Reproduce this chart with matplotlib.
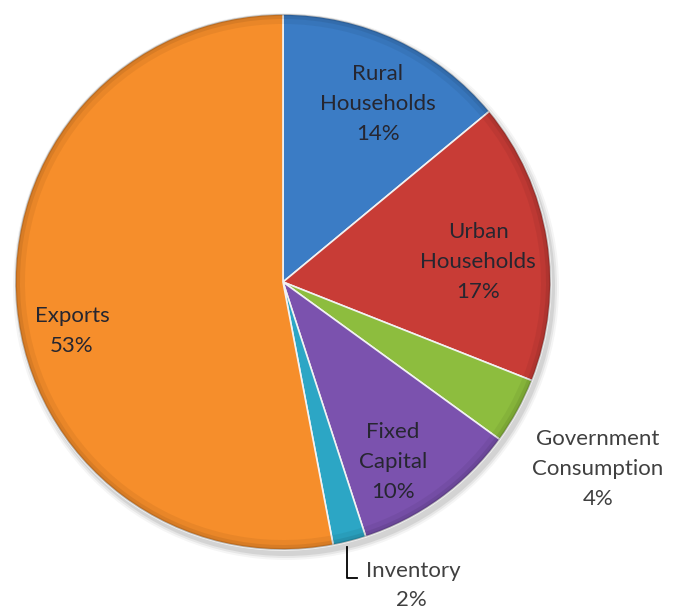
import matplotlib.pyplot as plt
from matplotlib.patches import Wedge

# shares of final demand (%)
categories = ["Rural\nHouseholds", "Urban\nHouseholds", "Government\nConsumption",
              "Fixed\nCapital", "Inventory", "Exports"]
shares = [14, 17, 4, 10, 2, 53]
colors = ["#3b7cc5", "#c83c36", "#8dbd3e", "#7b52ae", "#2ca6c5", "#f68e2b"]

plt.rcParams['font.family'] = ['Lato', 'DejaVu Sans']

fig = plt.figure(figsize=(6.74, 6.10), dpi=100)
ax = fig.add_axes([0, 0, 1, 1])

cx, cy, R = 283, 328, 268

# soft shadow down and to the right of the pie
for k, a in [(5, 0.04), (3, 0.06), (1, 0.08)]:
    ax.add_patch(plt.Circle((cx + 3, cy - 5), R + k, color='black', alpha=a, lw=0, zorder=0))

wedges, _ = ax.pie(shares, colors=colors, startangle=90, counterclock=False,
                   center=(cx, cy), radius=R, frame=True,
                   wedgeprops=dict(edgecolor='#f2f2f2', linewidth=1.2))
ax.set_xlim(0, 674)
ax.set_ylim(0, 610)
ax.set_aspect('equal')
ax.axis('off')

# bevel: darker rim on each slice
for w in wedges:
    for width, a in [(10, 0.05), (5, 0.07), (2, 0.12)]:
        ax.add_patch(Wedge((cx, cy), R, w.theta1, w.theta2, width=width,
                           color='black', alpha=a, lw=0, zorder=3))

txt = dict(ha='center', va='center', fontsize=16, linespacing=1.65, color='#262630', zorder=5)
outer = dict(txt, color='#404040')
ax.text(378, 610 - 104, f"{categories[0]}\n{shares[0]}%", **txt)
ax.text(478, 610 - 262, f"{categories[1]}\n{shares[1]}%", **txt)
ax.text(393, 610 - 462, f"{categories[3]}\n{shares[3]}%", **txt)
ax.text(72, 610 - 331, f"{categories[5]}\n{shares[5]}%", **txt)
ax.text(598, 610 - 469, f"{categories[2]}\n{shares[2]}%", **outer)

# inventory label sits outside with a leader line
ax.plot([347, 347, 357], [610 - 547, 610 - 578, 610 - 578], color='black', lw=1.3, zorder=5)
ax.text(413, 610 - 571, categories[4], **outer)
ax.text(411, 610 - 600, f"{shares[4]}%", **outer)

fig.savefig("out.png", dpi=100)
